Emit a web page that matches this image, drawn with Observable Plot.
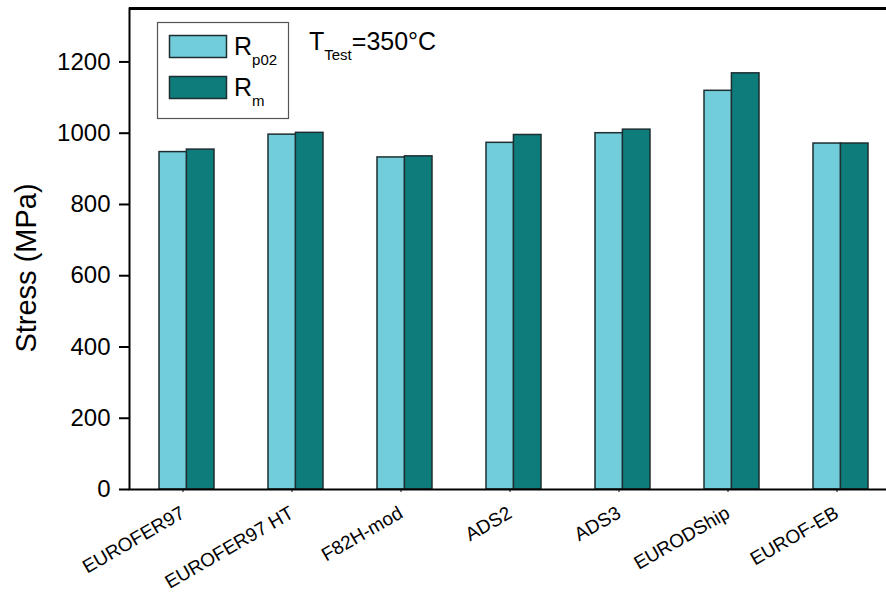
<!DOCTYPE html>
<html>
<head>
<meta charset="utf-8">
<script src="https://cdn.jsdelivr.net/npm/d3@7"></script>
<script src="https://cdn.jsdelivr.net/npm/@observablehq/plot@0.6"></script>
<style>
  html, body { margin: 0; padding: 0; background: #fff; overflow: hidden; }
</style>
</head>
<body>
<div id="chart"></div>
<script>
// Tensile test results at 350 °C for several ferritic/martensitic steels
const alloys = ["EUROFER97", "EUROFER97 HT", "F82H-mod", "ADS2", "ADS3", "EURODShip", "EUROF-EB"];
const rp02 = [947, 996, 932, 973, 1000, 1119, 971];   // yield strength R_p0.2 (MPa)
const rm   = [954, 1001, 935, 995, 1010, 1168, 971];  // tensile strength R_m (MPa)
const yTicks = [0, 200, 400, 600, 800, 1000, 1200];
const seriesSub = ["p02", "m"];
const seriesFill = ["#70cdd9", "#0e7c7b"];

const edge = "#1c2e31";
const font = "'Liberation Sans', Arial, Helvetica, sans-serif";

const rows = alloys.map((a, i) => ({alloy: a, rp02: rp02[i], rm: rm[i]}));

const W = 886, H = 595;
const mLeft = 129, mRight = -11, mTop = 8, mBottom = 106;
const step = (W - mRight - mLeft) / alloys.length;
const half = step * 0.25; // each bar fills half of the group band

const chart = Plot.plot({
  width: W,
  height: H,
  marginTop: mTop,
  marginRight: mRight,
  marginBottom: mBottom,
  marginLeft: mLeft,
  style: {fontFamily: font, background: "#fff", overflow: "hidden"},
  x: {domain: alloys, paddingInner: 0.5, paddingOuter: 0.25, label: null},
  y: {domain: [0, 1350], label: null},
  marks: [
    Plot.barY(rows, {x: "alloy", y: "rp02", fill: seriesFill[0], stroke: edge, strokeWidth: 1.5, insetLeft: 0, insetRight: half}),
    Plot.barY(rows, {x: "alloy", y: "rm", fill: seriesFill[1], stroke: edge, strokeWidth: 1.5, insetLeft: half, insetRight: 0}),
    Plot.frame({stroke: "#000", strokeWidth: 2}),
    Plot.ruleY([1350], {stroke: "#000", strokeWidth: 3}),
    Plot.axisY({ticks: yTicks, tickFormat: d3.format("d"), tickSize: 10, tickPadding: 9, fontSize: 24, strokeWidth: 2, label: null}),
    Plot.axisX({tickSize: 3, tickRotate: -30, tickPadding: 19, dx: -4, fontSize: 19, label: null})
  ]
});
document.getElementById("chart").appendChild(chart);

// Axis title, legend box and test-temperature note
const svg = d3.select(chart);
const g = svg.append("g").attr("font-family", font).attr("fill", "#000").attr("text-anchor", "start");

g.append("text")
  .attr("transform", "translate(36,268) rotate(-90)")
  .attr("text-anchor", "middle")
  .attr("font-size", 29)
  .text("Stress (MPa)");

const lg = g.append("g");
lg.append("rect")
  .attr("x", 157.5).attr("y", 22.5).attr("width", 131).attr("height", 96)
  .attr("fill", "#fff").attr("stroke", "#555").attr("stroke-width", 1.2);

seriesSub.forEach((sub, i) => {
  const top = 35 + i * 41;
  lg.append("rect")
    .attr("x", 169.5).attr("y", top + 0.5).attr("width", 57).attr("height", 22)
    .attr("fill", seriesFill[i]).attr("stroke", edge).attr("stroke-width", 1.5);
  const t = lg.append("text").attr("x", 234).attr("y", top + 20).attr("font-size", 25);
  t.append("tspan").text("R");
  t.append("tspan").attr("dy", 10).attr("font-size", 15).text(sub);
});

const note = g.append("text").attr("x", 309).attr("y", 50).attr("font-size", 25);
note.append("tspan").text("T");
note.append("tspan").attr("dy", 10).attr("font-size", 15).text("Test");
note.append("tspan").attr("dy", -10).text("=350°C");
</script>
</body>
</html>
